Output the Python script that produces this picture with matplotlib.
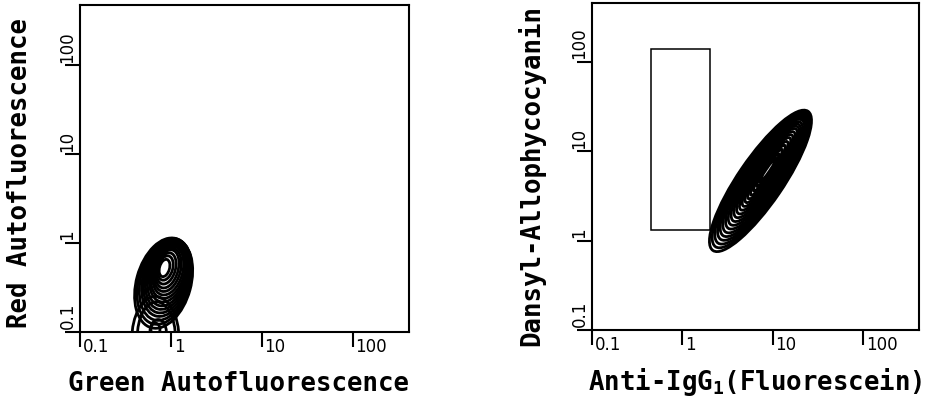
import numpy as np
import matplotlib.pyplot as plt
from matplotlib.patches import Ellipse, Rectangle

plt.rcParams['mathtext.fontset'] = 'custom'
plt.rcParams['mathtext.rm'] = 'DejaVu Sans Mono:bold'
plt.rcParams['mathtext.it'] = 'DejaVu Sans Mono:bold'
plt.rcParams['mathtext.bf'] = 'DejaVu Sans Mono:bold'

# decade ticks
tick_vals = [0.1, 1, 10, 100]
tick_labels = ['0.1', '1', '10', '100']

# left panel: contour rings, log10 units (center x, center y, half-length, half-width)
left_cx = [-0.08, -0.07, -0.06, -0.05, -0.045, -0.04, -0.035, -0.03, -0.03, -0.03,
           -0.035, -0.04, -0.05, -0.06, -0.07]
left_cy = [-0.45, -0.43, -0.41, -0.39, -0.375, -0.36, -0.345, -0.33, -0.32, -0.31,
           -0.30, -0.29, -0.285, -0.28, -0.28]
left_a = [0.52, 0.495, 0.47, 0.445, 0.42, 0.395, 0.37, 0.34, 0.31, 0.28,
          0.25, 0.22, 0.18, 0.14, 0.10]
left_b = [0.30, 0.285, 0.27, 0.255, 0.24, 0.225, 0.21, 0.195, 0.18, 0.16,
          0.14, 0.12, 0.10, 0.08, 0.055]
left_ang = 75
# small mode sitting on the bottom axis (vertical half-length, horizontal half-width)
base_cx = [-0.17, -0.16, -0.14, -0.17]
base_cy = [-1.08, -1.06, -1.00, -0.97]
base_a = [0.48, 0.40, 0.14, 0.07]
base_b = [0.26, 0.21, 0.09, 0.05]

# right panel: contour rings
right_cx = [0.865, 0.874, 0.882, 0.891, 0.899, 0.907, 0.916, 0.921, 0.927, 0.933,
            0.938, 0.941, 0.944, 0.947, 0.947, 0.947, 0.947, 0.947, 0.947]
right_cy = [0.669, 0.682, 0.694, 0.707, 0.719, 0.731, 0.744, 0.752, 0.760, 0.769,
            0.777, 0.781, 0.785, 0.789, 0.789, 0.789, 0.789, 0.789, 0.789]
right_a = [0.94, 0.905, 0.87, 0.835, 0.80, 0.765, 0.73, 0.69, 0.65, 0.61,
           0.57, 0.525, 0.48, 0.435, 0.385, 0.335, 0.28, 0.22, 0.16]
right_b = [0.25, 0.24, 0.23, 0.22, 0.21, 0.20, 0.19, 0.175, 0.16, 0.145,
           0.13, 0.115, 0.10, 0.085, 0.07, 0.055, 0.042, 0.03, 0.02]
right_ang = 56

# sort gate on the right panel
gate_x = [0.45, 2.0]
gate_y = [1.32, 140]

fig = plt.figure(figsize=(9.27, 3.99), dpi=100)
W, H = 927, 399
ax1 = fig.add_axes([80 / W, 1 - 332 / H, 329 / W, 327 / H])
ax2 = fig.add_axes([592 / W, 1 - 330 / H, 327 / W, 327 / H])


def setup(ax, ytop):
    ax.set_xlim(-1, 2.62)
    ax.set_ylim(-1, ytop)
    for s in ax.spines.values():
        s.set_linewidth(1.5)
    pos = np.log10(tick_vals)
    ax.set_xticks(pos)
    ax.set_yticks(pos)
    ax.set_xticklabels([])
    ax.set_yticklabels([])
    ax.tick_params(direction='out', length=11, width=1.5)
    for p, lab in zip(pos, tick_labels):
        ax.annotate(lab, xy=(p, 0), xycoords=('data', 'axes fraction'),
                    xytext=(2, -4), textcoords='offset points',
                    ha='left', va='top', fontsize=12, family='DejaVu Sans')
        ax.annotate(lab, xy=(0, p), xycoords=('axes fraction', 'data'),
                    xytext=(-9, 2), textcoords='offset points',
                    ha='center', va='bottom', rotation=90, fontsize=12,
                    family='DejaVu Sans')


def rings(ax, cx, cy, a, b, ang):
    for x, y, aa, bb in zip(cx, cy, a, b):
        ax.add_patch(Ellipse((x, y), 2 * aa, 2 * bb, angle=ang, fill=False,
                             ec='black', lw=2.0))


setup(ax1, 2.68)
setup(ax2, 2.66)

rings(ax1, left_cx, left_cy, left_a, left_b, left_ang)
rings(ax1, base_cx, base_cy, base_a, base_b, 90)
rings(ax2, right_cx, right_cy, right_a, right_b, right_ang)

gx = np.log10(gate_x)
gy = np.log10(gate_y)
ax2.add_patch(Rectangle((gx[0], gy[0]), gx[1] - gx[0], gy[1] - gy[0],
                        fill=False, ec='black', lw=1.1))

lab = dict(family='DejaVu Sans Mono', fontweight='bold', fontsize=18.5)
fig.text(239 / W, 1 - 391 / H, 'Green Autofluorescence', ha='center', va='baseline', **lab)
fig.text(755 / W, 1 - 390 / H, r'Anti-IgG$_1$(Fluorescein)', ha='center', va='baseline', **lab)
fig.text(20 / W, 1 - 173 / H, 'Red Autofluorescence', ha='center', va='center', rotation=90, **lab)
fig.text(531 / W, 1 - 175 / H, 'Dansyl-Allophycocyanin', ha='center', va='center', rotation=90, **lab)

fig.savefig('out.png', dpi=100)
